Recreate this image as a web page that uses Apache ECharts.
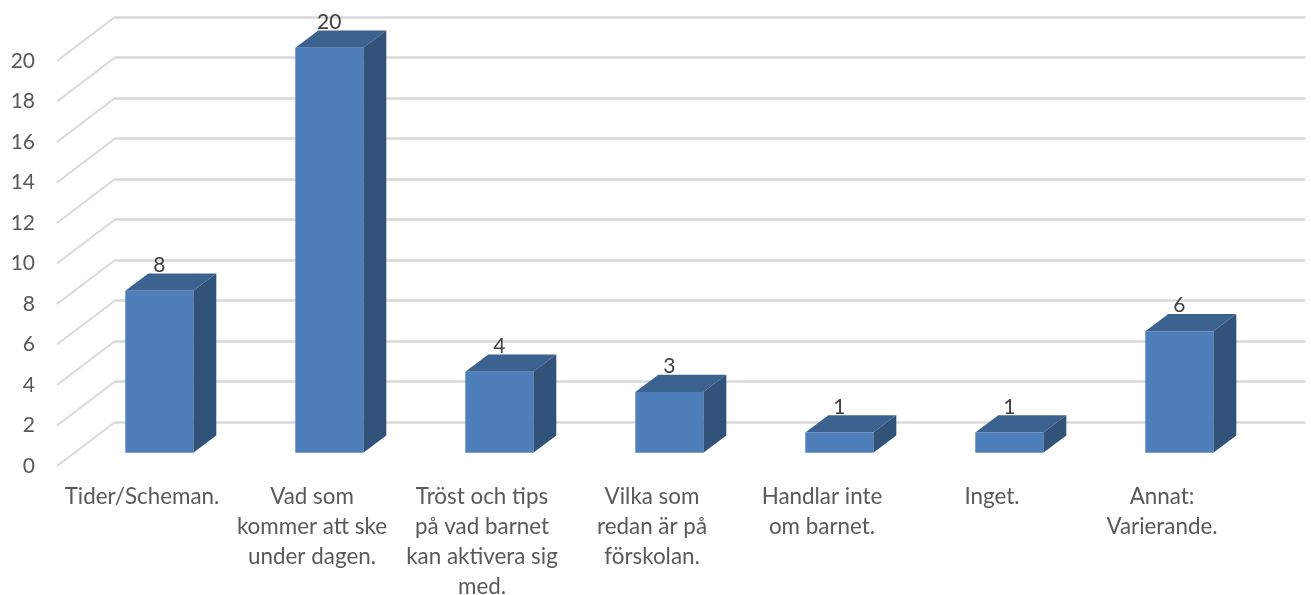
<!DOCTYPE html>
<html>
<head>
<meta charset="utf-8">
<script src="https://cdn.jsdelivr.net/npm/echarts@6/dist/echarts.min.js"></script>
<style>html,body{margin:0;padding:0;background:#fff}#c{width:1311px;height:595px}</style>
</head>
<body>
<div id="c"></div>
<script>
const categories = [
  "Tider/Scheman.",
  "Vad som\nkommer att ske\nunder dagen.",
  "Tröst och tips\npå vad barnet\nkan aktivera sig\nmed.",
  "Vilka som\nredan är på\nförskolan.",
  "Handlar inte\nom barnet.",
  "Inget.",
  "Annat:\nVarierande."
];
const values = [8, 20, 4, 3, 1, 1, 6];
const ticks = [0, 2, 4, 6, 8, 10, 12, 14, 16, 18, 20];

const FONT = 'Lato';
const GRID_COLOR = '#d9d9d9';
const DEPTH_X = 23, DEPTH_Y = 17.3;
const FLOOR_X = 58, FLOOR_Y = 44;
const FRONT = '#4e7fbb', SIDE = '#315279', TOP = '#3c6290';

function poly(points, fill) {
  return { type: 'polygon', shape: { points }, style: { fill } };
}

const option = {
  animation: false,
  backgroundColor: '#fff',
  grid: [
    { left: 57, top: 61, width: 1190, height: 405, outerBoundsMode: 'none' },
    { left: 115, top: 17, width: 1190, height: 405, outerBoundsMode: 'none' },
    { left: 74.3, top: 47.7, width: 1190, height: 405, outerBoundsMode: 'none' }
  ],
  xAxis: [
    { gridIndex: 0, type: 'category', data: categories,
      axisLine: { show: false }, axisTick: { show: false },
      axisLabel: { interval: 0, margin: 16, color: '#595959', fontFamily: FONT, fontSize: 22.4, lineHeight: 29.8 } },
    { gridIndex: 1, type: 'category', data: categories, show: false },
    { gridIndex: 2, type: 'category', data: categories, show: false }
  ],
  yAxis: [
    { gridIndex: 0, type: 'value', min: 0, max: 20, interval: 2,
      axisLine: { show: false }, axisTick: { show: false }, splitLine: { show: false },
      axisLabel: { margin: 22, color: '#595959', fontFamily: FONT, fontSize: 21 } },
    { gridIndex: 1, type: 'value', min: 0, max: 20, interval: 2,
      axisLine: { show: false }, axisTick: { show: false }, axisLabel: { show: false },
      splitLine: { show: true, lineStyle: { color: GRID_COLOR, width: 2.5 } } },
    { gridIndex: 2, type: 'value', min: 0, max: 20, interval: 2, show: false, splitLine: { show: false } }
  ],
  series: [
    {
      type: 'custom', xAxisIndex: 0, yAxisIndex: 0, z: 2, silent: true,
      coordinateSystem: 'cartesian2d',
      data: ticks.map(t => [0, t]),
      encode: { x: 0, y: 1 },
      renderItem(params, api) {
        const p = api.coord([0, api.value(1)]);
        const x = params.coordSys.x;
        return { type: 'line',
          shape: { x1: x, y1: p[1], x2: x + FLOOR_X, y2: p[1] - FLOOR_Y },
          style: { stroke: GRID_COLOR, lineWidth: 2 } };
      }
    },
    {
      type: 'custom', xAxisIndex: 2, yAxisIndex: 2, z: 3, silent: true,
      coordinateSystem: 'cartesian2d',
      data: values.map((v, i) => [i, v]),
      encode: { x: 0, y: 1 },
      renderItem(params, api) {
        const v = api.value(1);
        const c = api.coord([api.value(0), v]);
        const b = api.coord([api.value(0), 0]);
        const w = api.size([1, 0])[0] * 0.4;
        const l = c[0] - w / 2, r = c[0] + w / 2, t = c[1], bo = b[1];
        return { type: 'group', children: [
          poly([[l, t], [r, t], [r + DEPTH_X, t - DEPTH_Y], [l + DEPTH_X, t - DEPTH_Y]], TOP),
          poly([[r, t], [r + DEPTH_X, t - DEPTH_Y], [r + DEPTH_X, bo - DEPTH_Y], [r, bo]], SIDE),
          poly([[l, t], [r, t], [r, bo], [l, bo]], FRONT),
          { type: 'text', x: c[0], y: t - 25.5, style: {
              text: String(v), fill: '#404040', fontFamily: FONT, fontSize: 21,
              align: 'center', verticalAlign: 'middle' } }
        ] };
      }
    }
  ]
};
echarts.init(document.getElementById('c'), null, { renderer: 'canvas' }).setOption(option);
</script>
</body>
</html>
